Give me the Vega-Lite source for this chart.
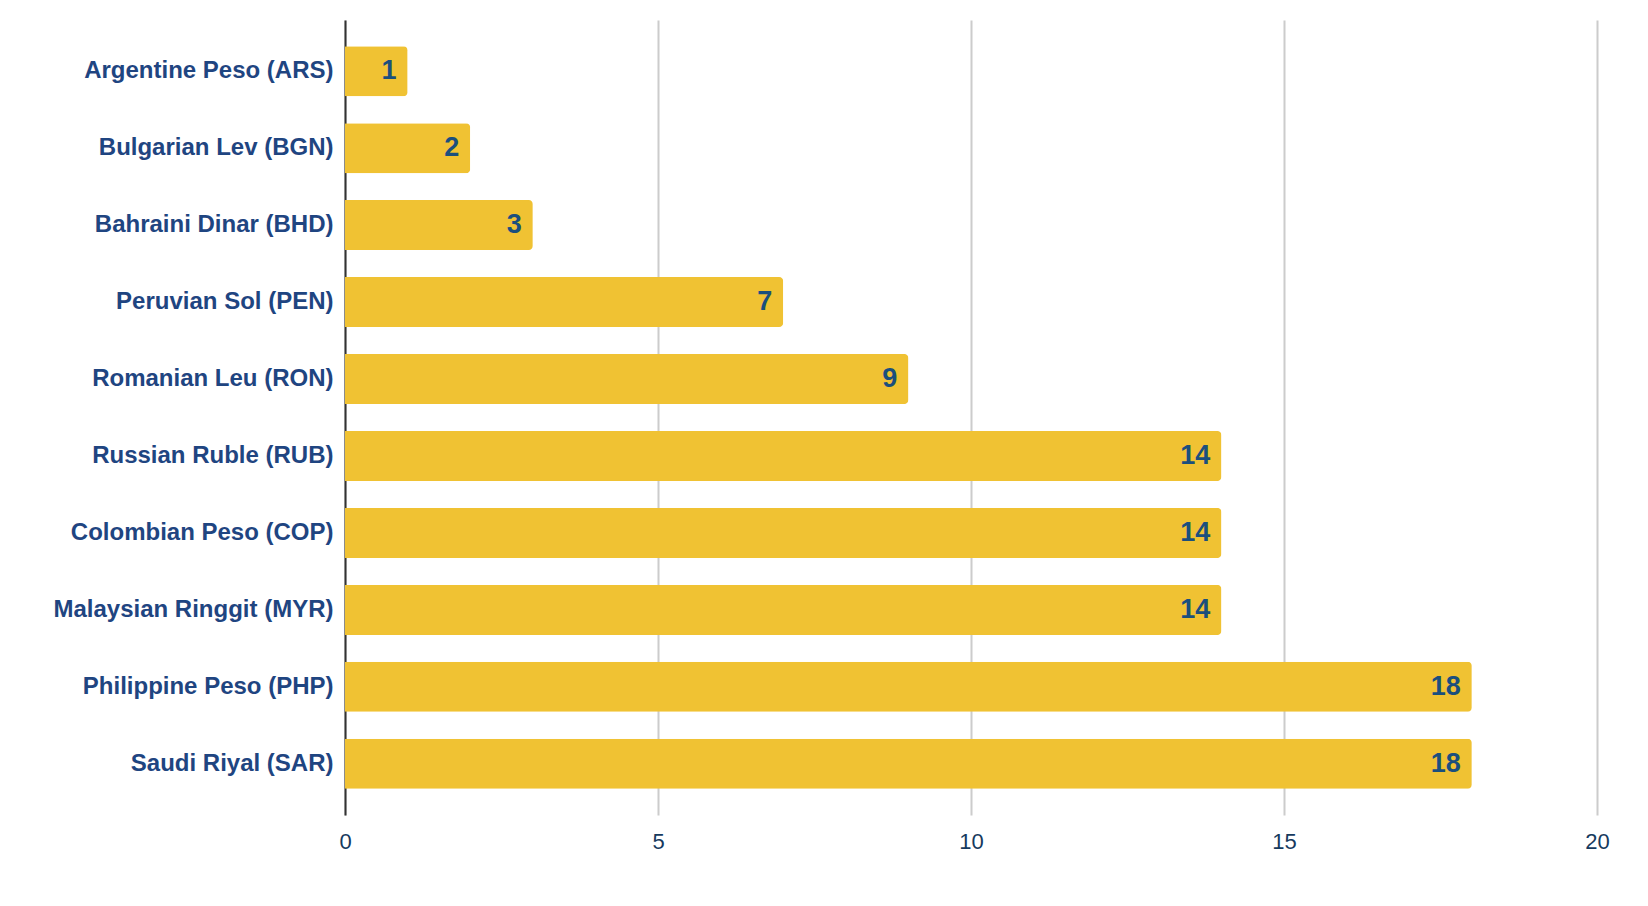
{
  "$schema": "https://vega.github.io/schema/vega-lite/v6.json",
  "autosize": "none",
  "width": 1252,
  "height": 795,
  "padding": {"left": 345, "top": 20, "right": 51, "bottom": 91},
  "background": "white",
  "config": {"view": {"stroke": null}, "font": "Liberation Sans"},
  "data": {
    "values": [
      {"currency": "Argentine Peso (ARS)", "value": 1},
      {"currency": "Bulgarian Lev (BGN)", "value": 2},
      {"currency": "Bahraini Dinar (BHD)", "value": 3},
      {"currency": "Peruvian Sol (PEN)", "value": 7},
      {"currency": "Romanian Leu (RON)", "value": 9},
      {"currency": "Russian Ruble (RUB)", "value": 14},
      {"currency": "Colombian Peso (COP)", "value": 14},
      {"currency": "Malaysian Ringgit (MYR)", "value": 14},
      {"currency": "Philippine Peso (PHP)", "value": 18},
      {"currency": "Saudi Riyal (SAR)", "value": 18}
    ]
  },
  "encoding": {
    "y": {
      "field": "currency",
      "type": "nominal",
      "sort": null,
      "title": null,
      "scale": {"paddingInner": 0.35, "paddingOuter": 0.34},
      "axis": {
        "domain": true,
        "domainColor": "#333333",
        "domainWidth": 2,
        "ticks": false,
        "grid": false,
        "labelFont": "Liberation Sans",
        "labelFontSize": 24,
        "labelFontWeight": "bold",
        "labelColor": "#1f4581",
        "labelPadding": 12,
        "labelLimit": 400
      }
    },
    "x": {
      "field": "value",
      "type": "quantitative",
      "title": null,
      "scale": {"domain": [0, 20], "nice": false},
      "axis": {
        "values": [0, 5, 10, 15, 20],
        "domain": false,
        "ticks": false,
        "grid": true,
        "gridColor": "#cccccc",
        "gridWidth": 2,
        "labelFont": "Liberation Sans",
        "labelFontSize": 22,
        "labelColor": "#163a5e",
        "labelPadding": 16,
        "labelFlush": false
      }
    }
  },
  "layer": [
    {
      "mark": {"type": "bar", "color": "#f0c233", "cornerRadiusEnd": 4}
    },
    {
      "mark": {
        "type": "text",
        "align": "right",
        "baseline": "middle",
        "dx": -11,
        "font": "Liberation Sans",
        "fontSize": 27,
        "fontWeight": "bold",
        "color": "#1b4f7d"
      },
      "encoding": {"text": {"field": "value", "type": "quantitative"}}
    }
  ]
}
